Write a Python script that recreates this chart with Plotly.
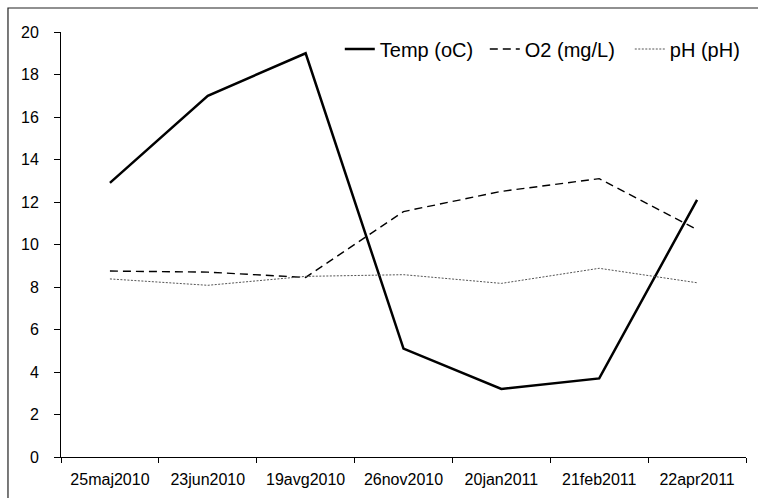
import plotly.graph_objects as go

dates = ["25maj2010", "23jun2010", "19avg2010", "26nov2010", "20jan2011", "21feb2011", "22apr2011"]
temp = [12.9, 17.0, 19.0, 5.1, 3.2, 3.7, 12.1]
o2 = [8.75, 8.7, 8.45, 11.55, 12.5, 13.1, 10.7]
ph = [8.38, 8.08, 8.5, 8.58, 8.17, 8.88, 8.2]
yticks = [0, 2, 4, 6, 8, 10, 12, 14, 16, 18, 20]

FONT = "Liberation Sans, Arial, sans-serif"

fig = go.Figure()
fig.add_trace(go.Scatter(x=dates, y=temp, mode="lines", name="Temp (oC)",
                         line=dict(color="black", width=2.5)))
fig.add_trace(go.Scatter(x=dates, y=o2, mode="lines", name="O2 (mg/L)",
                         line=dict(color="black", width=1.4, dash="8px,5px")))
fig.add_trace(go.Scatter(x=dates, y=ph, mode="lines", name="pH (pH)",
                         line=dict(color="#555555", width=1, dash="2px,1.5px")))

fig.update_layout(
    width=758, height=498,
    margin=dict(l=61, r=12, t=32, b=41, autoexpand=False),
    paper_bgcolor="white", plot_bgcolor="white",
    font=dict(family=FONT, color="black"),
    showlegend=True,
    legend=dict(orientation="h", x=0.407, xanchor="left", y=0.96, yanchor="middle",
                font=dict(size=20, family=FONT), bgcolor="rgba(0,0,0,0)",
                traceorder="normal", itemwidth=30, entrywidth=100),
    xaxis=dict(type="category", range=[-0.5, 6.5], showgrid=False, automargin=False,
               showline=True, linecolor="black", linewidth=1,
               ticks="outside", tickson="boundaries", ticklen=5, tickcolor="black",
               tickfont=dict(size=16, family=FONT), ticklabelstandoff=8),
    yaxis=dict(range=[0, 20], tickvals=yticks, showgrid=False, zeroline=False, automargin=False,
               showline=True, linecolor="black", linewidth=1,
               ticks="outside", ticklen=6, tickcolor="black",
               tickfont=dict(size=16, family=FONT), ticklabelstandoff=12),
    shapes=[dict(type="rect", xref="paper", yref="paper",
                 x0=-0.0774, x1=1.03, y0=-0.12, y1=1.0565,
                 line=dict(color="#222222", width=1.2), fillcolor="rgba(0,0,0,0)",
                 layer="below")],
)

fig.write_html("out.html")
